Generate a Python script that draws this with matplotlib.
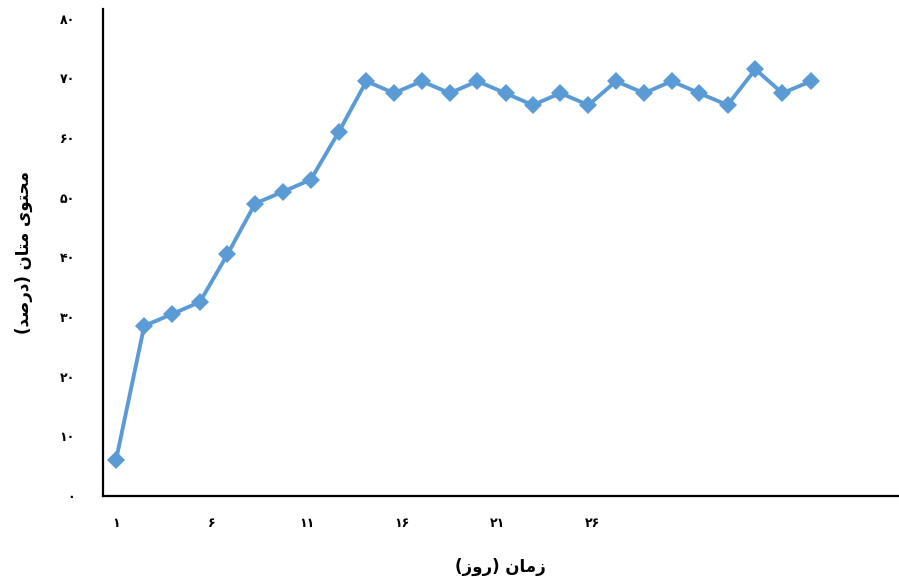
import matplotlib
matplotlib.use("Agg")
import matplotlib.pyplot as plt

# روز نمونه‌برداری و درصد متان
days = [1.00, 2.48, 3.95, 5.40, 6.85, 8.30, 9.77, 11.22, 12.69, 14.14,
        15.59, 17.04, 18.51, 19.96, 21.44, 22.87, 24.32, 25.79, 27.24, 28.71,
        30.16, 31.61, 33.09, 34.55, 35.97, 37.46]
methane = [6.0, 28.5, 30.5, 32.5, 40.5, 49.0, 51.0, 53.0, 61.0, 69.5,
           67.5, 69.5, 67.5, 69.5, 67.5, 65.5, 67.5, 65.5, 69.5, 67.5,
           69.5, 67.5, 65.5, 71.5, 67.5, 69.5]

x_ticks = [1, 6, 11, 16, 21, 26]
y_ticks = [0, 10, 20, 30, 40, 50, 60, 70, 80]

# برچسب‌ها به صورت شکل‌های نمایشی عربی و به ترتیب دیداری (matplotlib متن راست‌به‌چپ را شکل نمی‌دهد)
x_label = "(\uFEAF\uFEED\uFEAD) \uFEE5\uFE8E\uFEE3\uFEAF"          # زمان (روز)
y_label = ("(\uFEAA\uFEBB\uFEAD\uFEA9) \uFEE5\uFE8E\uFE98\uFEE3 "
           "\uFEEF\uFEEE\uFE98\uFEA4\uFEE3")                          # محتوی متان (درصد)

fa_digits = str.maketrans("0123456789", "۰۱۲۳۴۵۶۷۸۹")


def fa(n):
    return str(n).translate(fa_digits)


plt.rcParams['font.family'] = ['DejaVu Sans']

fig = plt.figure(figsize=(8.99, 5.77), dpi=100)
ax = fig.add_axes([0.1142, 0.1404, 0.885, 0.844])

ax.plot(days, methane, color='#5B9BD5', linewidth=2.8,
        marker='D', markersize=9, markeredgewidth=0)

ax.set_xlim(0.30, 42.05)
ax.set_ylim(0, 81.6)

ax.set_xticks(x_ticks)
ax.set_xticklabels([fa(t) for t in x_ticks], fontsize=9, fontweight='bold')
ax.set_yticks(y_ticks)
ax.set_yticklabels([fa(t) for t in y_ticks], fontsize=9, fontweight='bold')
ax.tick_params(axis='both', length=0)
ax.tick_params(axis='x', pad=15)
ax.tick_params(axis='y', pad=20)

for side in ['top', 'right']:
    ax.spines[side].set_visible(False)
for side in ['left', 'bottom']:
    ax.spines[side].set_linewidth(1.6)
    ax.spines[side].set_color('black')

ax.set_xlabel(x_label, fontsize=12, fontweight='bold', labelpad=20)
ax.set_ylabel(y_label, fontsize=12, fontweight='bold', labelpad=19)

fig.savefig("out.png", dpi=100)
